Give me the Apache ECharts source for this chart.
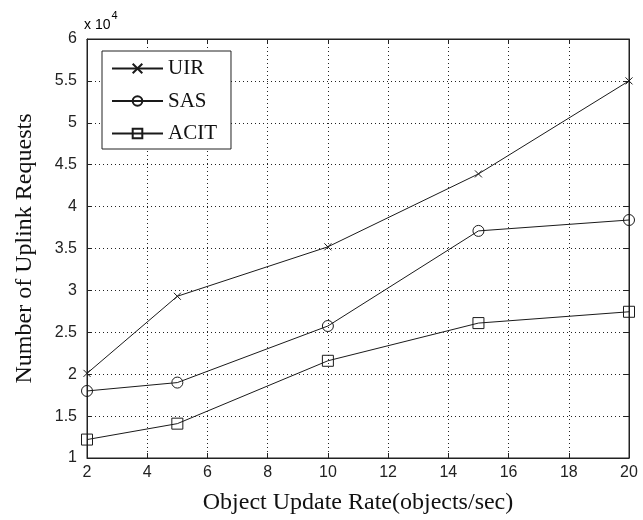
<!DOCTYPE html>
<html>
<head>
<meta charset="utf-8">
<script src="https://cdn.jsdelivr.net/npm/echarts@6/dist/echarts.min.js"></script>
<style>html,body{margin:0;padding:0;background:#fff}#c{width:643px;height:520px}</style>
</head>
<body>
<div id="c"></div>
<script>
const xValues = [2, 5, 10, 15, 20];
const seriesNames = ['UIR', 'SAS', 'ACIT'];
const uir = [20100, 29300, 35200, 43900, 55000];
const sas = [18000, 19000, 25750, 37100, 38400];
const acit = [12200, 14100, 21600, 26100, 27450];
const xTicks = [2, 4, 6, 8, 10, 12, 14, 16, 18, 20];
const yTicks = [10000, 15000, 20000, 25000, 30000, 35000, 40000, 45000, 50000, 55000, 60000];

const chart = echarts.init(document.getElementById('c'), null, {renderer: 'canvas'});
const lineColor = '#1a1a1a';
const tickFont = {fontFamily: 'Liberation Sans, Arial, sans-serif', fontSize: 16, color: '#222'};
const serif = 'Liberation Serif, Times New Roman, serif';
const markers = ['path://M0,0L10,10M10,0L0,10', 'circle', 'rect'];
const sizes = [7, 11, 11];
const data = [uir, sas, acit];

const gridSplit = {show: true, lineStyle: {color: '#222', type: [1, 3], width: 1}};
const tickIn = {show: true, inside: true, length: 5, lineStyle: {color: '#222'}};

const option = {
  animation: false,
  backgroundColor: '#fff',
  grid: {left: 87, right: 14, top: 39, bottom: 58, show: true, borderColor: '#222', borderWidth: 1},
  legend: {
    orient: 'vertical', left: 102, top: 51,
    data: seriesNames,
    itemWidth: 51, itemHeight: 12, itemGap: 11.5,
    padding: [7, 14, 5, 9],
    borderColor: '#222', borderWidth: 1, backgroundColor: '#fff',
    textStyle: {fontFamily: serif, fontSize: 21, color: '#111', lineHeight: 20},
    z: 10
  },
  xAxis: [{
    type: 'value', min: xTicks[0], max: xTicks[xTicks.length - 1], interval: 2,
    axisLine: {show: true, onZero: false, lineStyle: {color: '#222'}},
    axisTick: tickIn,
    axisLabel: Object.assign({margin: 7}, tickFont),
    splitLine: gridSplit,
    name: 'Object Update Rate(objects/sec)', nameLocation: 'middle', nameGap: 33,
    nameTextStyle: {fontFamily: serif, fontSize: 24, color: '#111'}
  }, {
    type: 'value', position: 'top', min: xTicks[0], max: xTicks[xTicks.length - 1], interval: 2,
    axisLine: {show: true, onZero: false, lineStyle: {color: '#222'}},
    axisTick: tickIn, axisLabel: {show: false}, splitLine: {show: false}
  }],
  yAxis: [{
    type: 'value', min: yTicks[0], max: yTicks[yTicks.length - 1], interval: 5000,
    axisLine: {show: true, onZero: false, lineStyle: {color: '#222'}},
    axisTick: tickIn,
    axisLabel: Object.assign({margin: 10, formatter: v => String(v / 10000)}, tickFont),
    splitLine: gridSplit,
    name: 'Number of Uplink Requests', nameLocation: 'middle', nameGap: 50,
    nameTextStyle: {fontFamily: serif, fontSize: 24, color: '#111'}
  }, {
    type: 'value', position: 'right', min: yTicks[0], max: yTicks[yTicks.length - 1], interval: 5000,
    axisLine: {show: true, onZero: false, lineStyle: {color: '#222'}},
    axisTick: tickIn, axisLabel: {show: false}, splitLine: {show: false}
  }],
  graphic: [{
    type: 'text', left: 84, top: 10,
    style: {
      text: '{a|x 10}{b|4}',
      rich: {
        a: {fontFamily: 'Liberation Sans, Arial, sans-serif', fontSize: 14, color: '#222', padding: [8, 0, 0, 0]},
        b: {fontFamily: 'Liberation Sans, Arial, sans-serif', fontSize: 11, color: '#222', verticalAlign: 'top', padding: [0, 0, 0, 1]}
      }
    }
  }],
  series: seriesNames.map((name, i) => ({
    name: name, type: 'line',
    data: xValues.map((x, j) => [x, data[i][j]]),
    symbol: markers[i], symbolSize: sizes[i], showSymbol: true, clip: false,
    itemStyle: {color: 'rgba(255,255,255,0)', borderColor: lineColor, borderWidth: 1},
    lineStyle: {color: lineColor, width: 1},
    emphasis: {disabled: true}
  }))
};
chart.setOption(option);
</script>
</body>
</html>
